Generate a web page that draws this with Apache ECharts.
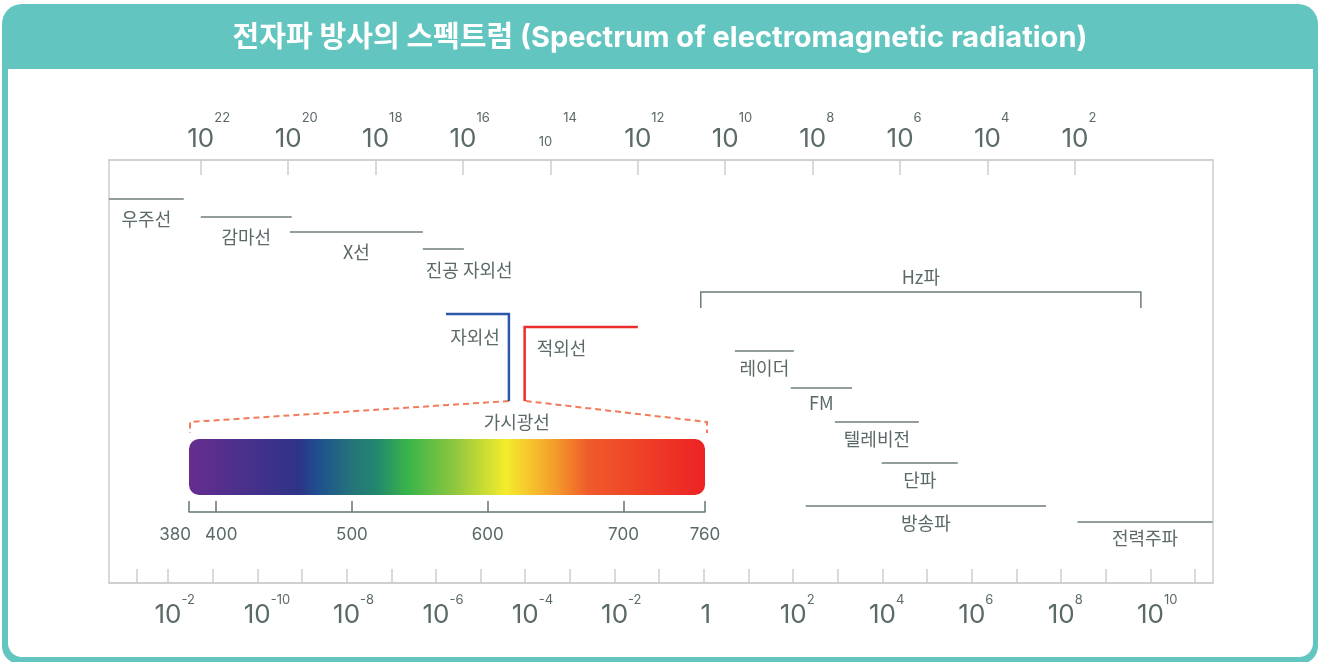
<!DOCTYPE html>
<html><head><meta charset="utf-8">
<script src="https://cdn.jsdelivr.net/npm/echarts@6/dist/echarts.min.js"></script>
<style>html,body{margin:0;padding:0;background:#fff}#c{width:1320px;height:662px}</style>
</head><body><div id="c"></div>
<script>
// ================= DATA =================
const titleText = '전자파 방사의 스펙트럼 (Spectrum of electromagnetic radiation)';

// top axis: frequency (Hz), exponent of 10
const freqTickExponents = [22, 20, 18, 16, 14, 12, 10, 8, 6, 4, 2];
const freqTickSuper = ['22', '20', '18', '16', '14', '12', '10', '8', '6', '4', '2'];

// bottom axis: wavelength (m), exponent of 10
const waveTickExponents = [-12.7, -12, -11, -10, -9, -8, -7, -6, -5, -4, -3, -2, -1, 0, 1, 2, 3, 4, 5, 6, 7, 8, 9, 10, 11];
const waveLabelExponents = [-12, -10, -8, -6, -4, -2, 0, 2, 4, 6, 8, 10];
const waveLabelSuper = ['-2', '-10', '-8', '-6', '-4', '-2', '', '2', '4', '6', '8', '10'];

// bands (in frequency exponent units)
const bandNames = ['우주선', '감마선', 'X선', '진공 자외선', '레이더', 'FM', '텔레비전', '단파', '방송파', '전력주파'];
const bandFrom  = [24.1, 22.0, 19.96, 16.92, 9.78, 8.50, 7.49, 6.42, 8.16, 1.94];
const bandTo    = [22.39, 19.92, 16.92, 15.98, 8.43, 7.10, 5.57, 4.68, 2.66, -1.15];

const hzName = 'Hz파';
const hzRange = [10.56, 0.49];
const uvName = '자외선';
const uvRange = [16.39, 14.95];
const irName = '적외선';
const irRange = [14.59, 12.0];

// visible light (nm)
const visibleName = '가시광선';
const visibleRange = [380, 760];
const visibleTicks = [380, 400, 500, 600, 700, 760];

// ================= LAYOUT / STYLE =================
const FONT = 'Inter, "Noto Sans CJK KR", sans-serif';
const KFONT = '"Noto Sans CJK KR", Inter, sans-serif';
const TEAL = '#62c5c0';
const TXT = '#5b6969';
const LINE = '#6f7c7c';
const FRAME = '#cdcdcd';
// vertical rows (page px through hidden y axis)
const bandLineY  = [199, 217, 232, 249, 351, 388, 422, 463, 506, 522];
const bandLabelY = [219, 237, 252, 270, 368, 403, 439, 480, 523, 538];
const bandAlign  = ['center', 'center', 'center', 'left', 'center', 'center', 'center', 'center', 'center', 'center'];
const hzLineY = 292, hzLabelY = 277, hzTick = 16;
const uvTopY = 314, irTopY = 327, uvIrBottomY = 401;
const spectrumStops = [
  [0, '#662d8f'], [0.212, '#2e3388'], [0.25, '#1f4f8f'], [0.317, '#25757a'], [0.363, '#21876e'],
  [0.425, '#39b54a'], [0.513, '#8cc63f'], [0.614, '#f4ec2b'], [0.663, '#f7c22c'], [0.709, '#f39c2b'],
  [0.775, '#f05a2a'], [0.84, '#ef4a28'], [1, '#ed2224']
];

const chart = echarts.init(document.getElementById('c'), null, {renderer: 'canvas'});

function topFormatter(v) {
  const i = freqTickExponents.findIndex(e => Math.abs(e - v) < 1e-6);
  const s = freqTickSuper[i];
  if (v === 14) return '{h2|' + s + '}{m|10}{s2|' + s + '}';
  return '{h|' + s + '}{b|10}{s|' + s + '}';
}
function bottomFormatter(v) {
  const i = waveLabelExponents.findIndex(e => Math.abs(e - v) < 1e-6);
  const s = waveLabelSuper[i];
  if (s === '') return '{h| }{b|1}';
  return '{h|' + s + '}{b|10}{s|' + s + '}';
}
function visFormatter(v) {
  if (v === 380) return '{l|380}';
  if (v === 400) return '{r|400}';
  return '{n|' + v + '}';
}

const option = {
  animation: false,
  textStyle: {fontFamily: FONT},
  title: {
    text: titleText, left: 'center', top: 21, padding: 0,
    textStyle: {color: '#ffffff', fontSize: 29, fontWeight: 'bold', fontFamily: FONT, lineHeight: 34}
  },
  graphic: {elements: [
    {id: 'outer', type: 'rect', z: -10, silent: true, shape: {x: 2, y: 4, width: 1316, height: 660, r: [20, 20, 18, 18]}, style: {fill: TEAL}},
    {id: 'inner', type: 'rect', z: -9, silent: true, shape: {x: 8, y: 69, width: 1305, height: 588, r: [0, 0, 14, 14]}, style: {fill: '#ffffff'}}
  ]},
  grid: [
    {left: 109, right: 107, top: 160, bottom: 79, show: true, borderColor: FRAME, borderWidth: 1.5, backgroundColor: 'transparent', outerBoundsMode: 'none'},
    {left: 189, right: 615, top: 439, bottom: 150, show: false, outerBoundsMode: 'none'}
  ],
  xAxis: [
    {
      type: 'value', gridIndex: 0, position: 'top', inverse: true, min: -1.16, max: 24.1,
      axisLine: {show: true, lineStyle: {color: FRAME, width: 1.5}},
      axisTick: {show: true, inside: true, length: 15, customValues: freqTickExponents, lineStyle: {color: FRAME, width: 1.5}},
      splitLine: {show: false},
      axisLabel: {
        show: true, customValues: freqTickExponents, margin: 8, hideOverlap: false,
        formatter: topFormatter,
        rich: {
          h: {fontSize: 13, lineHeight: 40, color: 'transparent', verticalAlign: 'top', fontFamily: FONT},
          b: {fontSize: 26, lineHeight: 26, color: TXT, verticalAlign: 'bottom', fontFamily: FONT},
          s: {fontSize: 13, lineHeight: 13, color: TXT, verticalAlign: 'top', fontFamily: FONT},
          h2: {fontSize: 13, lineHeight: 40, color: 'transparent', verticalAlign: 'top', padding: [0, 0, 0, 1], fontFamily: FONT},
          m: {fontSize: 13, lineHeight: 13, color: TXT, verticalAlign: 'bottom', padding: [0, 0, 3, 0], fontFamily: FONT},
          s2: {fontSize: 13, lineHeight: 13, color: TXT, verticalAlign: 'top', padding: [0, 0, 0, 11], fontFamily: FONT}
        }
      }
    },
    {
      type: 'value', gridIndex: 0, position: 'bottom', min: -13.32, max: 11.40,
      axisLine: {show: true, lineStyle: {color: FRAME, width: 1.5}},
      axisTick: {show: true, inside: true, length: 14, customValues: waveTickExponents, lineStyle: {color: FRAME, width: 1.5}},
      splitLine: {show: false},
      axisLabel: {
        show: true, customValues: waveLabelExponents, margin: 11, hideOverlap: false,
        formatter: bottomFormatter,
        rich: {
          h: {fontSize: 13, lineHeight: 34, color: 'transparent', verticalAlign: 'top', fontFamily: FONT},
          b: {fontSize: 26, lineHeight: 26, color: TXT, verticalAlign: 'bottom', fontFamily: FONT},
          s: {fontSize: 13, lineHeight: 13, color: TXT, verticalAlign: 'top', fontFamily: FONT}
        }
      }
    },
    {
      type: 'value', gridIndex: 1, position: 'bottom', min: visibleRange[0], max: visibleRange[1],
      axisLine: {show: true, lineStyle: {color: '#667474', width: 1.5}},
      axisTick: {show: true, inside: true, length: 11, customValues: visibleTicks, lineStyle: {color: '#667474', width: 1.5}},
      splitLine: {show: false},
      axisLabel: {
        show: true, customValues: visibleTicks, margin: 14, hideOverlap: false, showMinLabel: true, showMaxLabel: true,
        formatter: visFormatter,
        rich: {
          l: {fontSize: 17, color: TXT, padding: [0, 28, 0, 0], fontFamily: FONT},
          r: {fontSize: 17, color: TXT, padding: [0, 0, 0, 10], fontFamily: FONT},
          n: {fontSize: 17, color: TXT, fontFamily: FONT}
        }
      }
    }
  ],
  yAxis: [
    {type: 'value', gridIndex: 0, inverse: true, min: 160, max: 583, show: false},
    {type: 'value', gridIndex: 1, min: 0, max: 1, show: false}
  ],
  series: [
    {
      type: 'custom', name: 'bands', xAxisIndex: 0, yAxisIndex: 0,
      data: bandNames.map((n, i) => [bandFrom[i], bandTo[i], i]),
      renderItem: function (params, api) {
        const i = api.value(2);
        const p0 = api.coord([api.value(0), bandLineY[i]]);
        const p1 = api.coord([api.value(1), bandLineY[i]]);
        const ly = api.coord([api.value(0), bandLabelY[i]])[1];
        const left = bandAlign[i] === 'left';
        return {type: 'group', children: [
          {type: 'line', shape: {x1: p0[0], y1: p0[1], x2: p1[0], y2: p1[1]}, style: {stroke: LINE, lineWidth: 1.5}},
          {type: 'text', x: left ? p0[0] + 3 : (p0[0] + p1[0]) / 2, y: ly,
            style: {text: bandNames[i], fill: TXT, fontSize: 18, fontFamily: KFONT, align: left ? 'left' : 'center', verticalAlign: 'middle'}}
        ]};
      }
    },
    {
      type: 'custom', name: 'hz', xAxisIndex: 0, yAxisIndex: 0,
      data: [[hzRange[0], hzRange[1]]],
      renderItem: function (params, api) {
        const p0 = api.coord([api.value(0), hzLineY]);
        const p1 = api.coord([api.value(1), hzLineY]);
        const ly = api.coord([api.value(0), hzLabelY])[1];
        return {type: 'group', children: [
          {type: 'polyline', shape: {points: [[p0[0], p0[1] + hzTick], [p0[0], p0[1]], [p1[0], p1[1]], [p1[0], p1[1] + hzTick]]},
            style: {stroke: LINE, lineWidth: 1.5, fill: null}},
          {type: 'text', x: (p0[0] + p1[0]) / 2, y: ly,
            style: {text: hzName, fill: TXT, fontSize: 18, fontFamily: KFONT, align: 'center', verticalAlign: 'middle'}}
        ]};
      }
    },
    {
      type: 'custom', name: 'uvir', xAxisIndex: 0, yAxisIndex: 0,
      data: [[uvRange[0], uvRange[1], 0], [irRange[1], irRange[0], 1]],
      renderItem: function (params, api) {
        const k = api.value(2);
        const topY = k === 0 ? uvTopY : irTopY;
        const a = api.coord([api.value(0), topY]);
        const b = api.coord([api.value(1), topY]);
        const bot = api.coord([api.value(1), uvIrBottomY]);
        const color = k === 0 ? '#2d58a8' : '#ea2e2c';
        const label = k === 0
          ? {type: 'text', x: b[0] - 9, y: a[1] + 23, style: {text: uvName, fill: TXT, fontSize: 18, fontFamily: KFONT, align: 'right', verticalAlign: 'middle'}}
          : {type: 'text', x: b[0] + 12, y: a[1] + 21, style: {text: irName, fill: TXT, fontSize: 18, fontFamily: KFONT, align: 'left', verticalAlign: 'middle'}};
        return {type: 'group', children: [
          {type: 'polyline', shape: {points: [a, b, bot]}, style: {stroke: color, lineWidth: 2.5, fill: null}},
          label
        ]};
      }
    },
    {
      type: 'custom', name: 'visible', xAxisIndex: 2, yAxisIndex: 1,
      data: [[visibleRange[0], visibleRange[1]]],
      renderItem: function (params, api) {
        const a = api.coord([api.value(0), 1]);
        const b = api.coord([api.value(1), 1]);
        return {type: 'rect', shape: {x: a[0], y: a[1], width: b[0] - a[0], height: 56, r: 10},
          style: {fill: new echarts.graphic.LinearGradient(0, 0, 1, 0, spectrumStops.map(s => ({offset: s[0], color: s[1]})))}};
      }
    }
  ]
};
chart.setOption(option);

// dashed connectors from UV/IR to the visible-light bar
const uvB = chart.convertToPixel({seriesIndex: 2}, [uvRange[1], uvIrBottomY]);
const irB = chart.convertToPixel({seriesIndex: 2}, [irRange[0], uvIrBottomY]);
const vL = chart.convertToPixel({seriesIndex: 3}, [visibleRange[0], 1]);
const vR = chart.convertToPixel({seriesIndex: 3}, [visibleRange[1], 1]);
const dashStyle = {stroke: '#f27b5c', lineWidth: 2, lineDash: [6, 4], fill: null};
chart.setOption({graphic: {elements: [
  {id: 'dashL', type: 'polyline', silent: true, shape: {points: [[uvB[0], uvB[1]], [vL[0] + 1, vL[1] - 17], [vL[0] + 1, vL[1] - 6]]}, style: dashStyle},
  {id: 'dashR', type: 'polyline', silent: true, shape: {points: [[irB[0] + 1, irB[1]], [vR[0] + 2, vR[1] - 17], [vR[0] + 2, vR[1] - 6]]}, style: dashStyle},
  {id: 'visLabel', type: 'text', silent: true, x: (uvB[0] + irB[0]) / 2, y: vL[1] - 17,
    style: {text: visibleName, fill: TXT, fontSize: 18, fontFamily: KFONT, align: 'center', verticalAlign: 'middle'}}
]}});
</script>
</body></html>
